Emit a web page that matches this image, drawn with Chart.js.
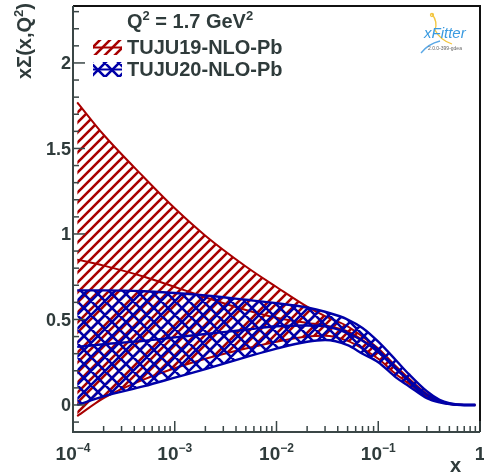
<!DOCTYPE html>
<html>
<head>
<meta charset="utf-8">
<script src="https://cdn.jsdelivr.net/npm/chart.js@4.4.1/dist/chart.umd.min.js"></script>
<style>
  html, body { margin: 0; padding: 0; background: #fff; }
  #wrap { width: 484px; height: 475px; }
</style>
</head>
<body>
<div id="wrap"><canvas id="chart" width="484" height="475"></canvas></div>
<script>
// x grid the bands were read at
const xValues = [1.1e-4, 2e-4, 5e-4, 1e-3, 2e-3, 5e-3, 1e-2, 2e-2, 3e-2, 5e-2, 7e-2, 0.1, 0.15, 0.2, 0.3, 0.4, 0.5, 0.7, 0.9];

// TUJU19-NLO-Pb band (upper / central / lower)
const tuju19Upper = [1.77, 1.58, 1.33, 1.15, 0.99, 0.81, 0.69, 0.575, 0.52, 0.46, 0.40, 0.33, 0.225, 0.155, 0.065, 0.024, 0.008, 0.0, 0.0];
const tuju19Central = [0.85, 0.815, 0.75, 0.69, 0.63, 0.555, 0.51, 0.48, 0.465, 0.43, 0.38, 0.31, 0.21, 0.145, 0.06, 0.022, 0.007, 0.0, 0.0];
const tuju19Lower = [-0.065, 0.04, 0.15, 0.215, 0.27, 0.33, 0.37, 0.40, 0.405, 0.375, 0.33, 0.27, 0.18, 0.125, 0.05, 0.018, 0.006, 0.0, 0.0];

// TUJU20-NLO-Pb band
const tuju20Upper = [0.67, 0.67, 0.665, 0.655, 0.64, 0.615, 0.595, 0.57, 0.545, 0.50, 0.45, 0.37, 0.26, 0.18, 0.08, 0.03, 0.01, 0.0, 0.0];
const tuju20Central = [0.34, 0.355, 0.375, 0.395, 0.415, 0.44, 0.46, 0.465, 0.46, 0.42, 0.375, 0.31, 0.21, 0.145, 0.06, 0.022, 0.007, 0.0, 0.0];
const tuju20Lower = [0.0, 0.05, 0.11, 0.16, 0.21, 0.28, 0.33, 0.37, 0.38, 0.35, 0.30, 0.25, 0.16, 0.11, 0.04, 0.015, 0.005, 0.0, 0.0];

// axes
const xMajorTicks = [1e-4, 1e-3, 1e-2, 1e-1, 1];
const xTickLabels = [['10', '\u22124'], ['10', '\u22123'], ['10', '\u22122'], ['10', '\u22121'], ['1', '']];
const yMajorTicks = [0, 0.5, 1, 1.5, 2];
const yTickLabels = ['0', '0.5', '1', '1.5', '2'];

const RED = '#a80000';
const BLUE = '#0000a8';
const TEXT = '#2f3b3b';
const FONT = '"Liberation Sans", Arial, Helvetica, sans-serif';

// hatch fill patterns like the ROOT fill styles
function makeHatch(color, size, cross, width) {
  const c = document.createElement('canvas');
  c.width = size;
  c.height = size;
  const g = c.getContext('2d');
  g.strokeStyle = color;
  g.lineWidth = width;
  g.beginPath();
  for (let k = -1; k <= 1; k++) {
    g.moveTo(k * size - 1, size + 1);
    g.lineTo(k * size + size + 1, -1);
    if (cross) {
      g.moveTo(k * size - 1, -1);
      g.lineTo(k * size + size + 1, size + 1);
    }
  }
  g.stroke();
  return g.createPattern(c, 'repeat');
}

const redHatch = makeHatch(RED, 10, false, 2.6);
const blueHatch = makeHatch(BLUE, 14, true, 2.6);

function toPoints(ys) {
  return xValues.map((x, i) => ({ x: x, y: ys[i] }));
}

function bandLine(label, ys, color, width, order, fill, bg) {
  return {
    label: label,
    data: toPoints(ys),
    borderColor: color,
    borderWidth: width,
    backgroundColor: bg || 'transparent',
    fill: fill || false,
    pointRadius: 0,
    cubicInterpolationMode: 'monotone',
    order: order
  };
}

// draw text pieces where some are superscripts
function drawRich(ctx, parts, x, y, size) {
  let cx = x;
  parts.forEach(p => {
    const sup = p[1];
    ctx.font = 'bold ' + (sup ? Math.round(size * 0.65) : size) + 'px ' + FONT;
    ctx.fillText(p[0], cx, sup ? y - size * 0.42 : y);
    cx += ctx.measureText(p[0]).width;
  });
  return cx - x;
}

function richWidth(ctx, parts, size) {
  let w = 0;
  parts.forEach(p => {
    ctx.font = 'bold ' + (p[1] ? Math.round(size * 0.65) : size) + 'px ' + FONT;
    w += ctx.measureText(p[0]).width;
  });
  return w;
}

const rootFrame = {
  id: 'rootFrame',
  afterDraw(chart) {
    const ctx = chart.ctx;
    const a = chart.chartArea;
    const xs = chart.scales.x;
    const ys = chart.scales.y;
    ctx.save();

    // frame
    ctx.lineWidth = 2;
    ctx.strokeStyle = '#111';
    ctx.beginPath();
    ctx.moveTo(a.left, a.top);
    ctx.lineTo(a.right, a.top);
    ctx.lineTo(a.right, a.bottom);
    ctx.stroke();
    ctx.strokeStyle = '#3a4646';
    ctx.beginPath();
    ctx.moveTo(a.left, a.top);
    ctx.lineTo(a.left, a.bottom);
    ctx.lineTo(a.right, a.bottom);
    ctx.stroke();

    // y ticks: minor every 0.1, major every 0.5
    ctx.lineWidth = 1.5;
    for (let i = -1; i <= 23; i++) {
      const v = i / 10;
      const py = ys.getPixelForValue(v);
      if (py < a.top || py > a.bottom) continue;
      const len = (i % 5 === 0) ? 12 : 6;
      ctx.beginPath();
      ctx.moveTo(a.left, py);
      ctx.lineTo(a.left + len, py);
      ctx.stroke();
    }
    // x ticks: decades and 2..9 minors
    for (let d = -4; d <= 0; d++) {
      for (let m = 1; m <= 9; m++) {
        const v = m * Math.pow(10, d);
        if (v > 1) break;
        const px = xs.getPixelForValue(v);
        const len = m === 1 ? 11 : 6;
        ctx.beginPath();
        ctx.moveTo(px, a.bottom);
        ctx.lineTo(px, a.bottom - len);
        ctx.stroke();
      }
    }

    // tick labels
    ctx.fillStyle = TEXT;
    ctx.textBaseline = 'alphabetic';
    ctx.font = 'bold 18px ' + FONT;
    ctx.textAlign = 'right';
    yMajorTicks.forEach((v, i) => {
      ctx.fillText(yTickLabels[i], a.left - 2, ys.getPixelForValue(v) + 6.5);
    });
    ctx.textAlign = 'left';
    xMajorTicks.forEach((v, i) => {
      const parts = [[xTickLabels[i][0], false], [xTickLabels[i][1], true]];
      const w = richWidth(ctx, parts, 19);
      drawRich(ctx, parts, xs.getPixelForValue(v) - w / 2, 460, 19);
    });

    // axis titles
    ctx.font = 'bold 20px ' + FONT;
    ctx.textAlign = 'right';
    ctx.fillText('x', 461, 472);
    ctx.save();
    ctx.translate(31, 3);
    ctx.rotate(-Math.PI / 2);
    ctx.textAlign = 'left';
    const ytParts = [['x\u03A3(x,Q', false], ['2', true], [')', false]];
    const ytw = richWidth(ctx, ytParts, 20);
    drawRich(ctx, ytParts, -ytw, 0, 20);
    ctx.restore();

    // legend
    ctx.textAlign = 'left';
    drawRich(ctx, [['Q', false], ['2', true], [' = 1.7 GeV', false], ['2', true]], 127, 28, 20);
    const entries = [['TUJU19-NLO-Pb', RED, redHatch, 40], ['TUJU20-NLO-Pb', BLUE, blueHatch, 62]];
    entries.forEach(e => {
      ctx.fillStyle = e[2];
      ctx.fillRect(93, e[3], 29, 15);
      ctx.strokeStyle = e[1];
      ctx.lineWidth = 2;
      ctx.beginPath();
      ctx.moveTo(93, e[3] + 7.5);
      ctx.lineTo(122, e[3] + 7.5);
      ctx.stroke();
      ctx.fillStyle = TEXT;
      ctx.font = 'bold 20px ' + FONT;
      ctx.fillText(e[0], 127, e[3] + 14);
    });

    // xFitter logo
    ctx.strokeStyle = '#f3c640';
    ctx.lineWidth = 1.3;
    ctx.beginPath();
    ctx.moveTo(432, 14);
    ctx.quadraticCurveTo(438, 22, 435, 30);
    ctx.quadraticCurveTo(440, 40, 452, 44);
    ctx.stroke();
    ctx.beginPath();
    ctx.arc(432, 15, 1.5, 0, Math.PI * 2);
    ctx.stroke();
    ctx.strokeStyle = '#5aa8e6';
    ctx.beginPath();
    ctx.moveTo(421, 53);
    ctx.quadraticCurveTo(428, 44, 440, 41);
    ctx.stroke();
    ctx.fillStyle = '#3b9be0';
    ctx.font = 'italic 15px ' + FONT;
    ctx.fillText('xFitter', 424, 38);
    ctx.fillStyle = '#666';
    ctx.font = '5px ' + FONT;
    ctx.fillText('2.0.0-399-gdea', 428, 50);

    ctx.restore();
  }
};

new Chart(document.getElementById('chart'), {
  type: 'line',
  data: {
    datasets: [
      bandLine('TUJU19-NLO-Pb', tuju19Upper, RED, 2, 6, '+2', redHatch),
      bandLine('TUJU19 central', tuju19Central, RED, 2, 5),
      bandLine('TUJU19 lower', tuju19Lower, RED, 2, 4),
      bandLine('TUJU20-NLO-Pb', tuju20Upper, BLUE, 2.4, 3, '+2', blueHatch),
      bandLine('TUJU20 central', tuju20Central, BLUE, 2.4, 2),
      bandLine('TUJU20 lower', tuju20Lower, BLUE, 2.4, 1)
    ]
  },
  options: {
    responsive: false,
    animation: false,
    layout: { padding: { left: 73, right: 4, top: 6, bottom: 43 } },
    plugins: {
      legend: { display: false },
      tooltip: { enabled: false }
    },
    scales: {
      x: { type: 'logarithmic', min: 1e-4, max: 1, display: false },
      y: { type: 'linear', min: -0.158, max: 2.333, display: false }
    }
  },
  plugins: [rootFrame]
});
</script>
</body>
</html>
